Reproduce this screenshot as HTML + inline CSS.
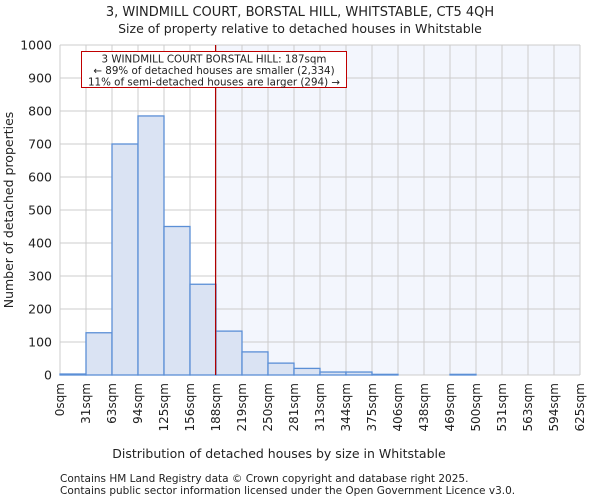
<!DOCTYPE html>
<html><head><meta charset="utf-8"><style>
body{margin:0;background:#fff;font-family:"DejaVu Sans","Liberation Sans",sans-serif}
svg text{font-family:"DejaVu Sans","Liberation Sans",sans-serif;fill:#222}
</style></head><body>
<svg id="c" width="600" height="500">
<text x="300" y="16" text-anchor="middle" font-size="13">3, WINDMILL COURT, BORSTAL HILL, WHITSTABLE, CT5 4QH</text>
<text x="300" y="33" text-anchor="middle" font-size="12.5">Size of property relative to detached houses in Whitstable</text>
<g id="g"></g>
<text x="279" y="458" text-anchor="middle" font-size="12.5">Distribution of detached houses by size in Whitstable</text>
<text transform="translate(13,210) rotate(-90)" text-anchor="middle" font-size="12.5">Number of detached properties</text>
<text x="60" y="482" font-size="10.5">Contains HM Land Registry data © Crown copyright and database right 2025.</text>
<text x="60" y="494" font-size="10.5">Contains public sector information licensed under the Open Government Licence v3.0.</text>
</svg>
<script>
const binLabels=["0sqm","31sqm","63sqm","94sqm","125sqm","156sqm","188sqm","219sqm","250sqm","281sqm","313sqm","344sqm","375sqm","406sqm","438sqm","469sqm","500sqm","531sqm","563sqm","594sqm","625sqm"];
const counts=[3,128,700,785,450,275,133,70,36,20,9,9,2,0,0,2,0,0,0,0];
const yTicks=[0,100,200,300,400,500,600,700,800,900,1000];
const markerValue=187;
const xMin=0,xMax=625;
const L=60,R=580,T=45,B=375;
const ns="http://www.w3.org/2000/svg";
const g=document.getElementById('g');
const sx=v=>L+(v-xMin)/(xMax-xMin)*(R-L);
const sy=v=>B-v/1000*(B-T);
const bw=(R-L)/counts.length;
function mk(t,a){const e=document.createElementNS(ns,t);for(const k in a)e.setAttribute(k,a[k]);g.appendChild(e);return e;}
let e=mk('rect',{x:sx(markerValue),y:T,width:R-sx(markerValue),height:B-T,fill:'#f3f6fd'});


for(let i=0;i<binLabels.length;i++){
 e=mk('line',{x1:L+i*bw,x2:L+i*bw,y1:T,y2:B,stroke:'#ccc'});
 
 
 e=mk('text',{transform:`translate(${L+i*bw+4},${B+8}) rotate(-90)`,'text-anchor':'end','font-size':'12'});
 e.textContent=binLabels[i];
 
 
}
yTicks.forEach(v=>{
 e=mk('line',{x1:L,x2:R,y1:sy(v),y2:sy(v),stroke:'#ccc'});
 
 
 e=mk('text',{x:L-8,y:sy(v)+4.5,'text-anchor':'end','font-size':'12.5'});
 e.textContent=v;
 
 
});
counts.forEach((c,i)=>{
 e=mk('rect',{x:L+i*bw,y:sy(c),width:bw,height:B-sy(c),fill:'#dae3f3',stroke:'#5b8fd6','stroke-width':1.3});
 
 
});
e=mk('line',{x1:sx(markerValue),x2:sx(markerValue),y1:T,y2:B,stroke:'#b00000','stroke-width':1.2});


e=mk('rect',{x:81.5,y:51.5,width:265,height:36,fill:'#fff',stroke:'#c00000'});


["3 WINDMILL COURT BORSTAL HILL: 187sqm","← 89% of detached houses are smaller (2,334)","11% of semi-detached houses are larger (294) →"].forEach((t,i)=>{
 e=mk('text',{x:214,y:62.5+i*11.5,'text-anchor':'middle','font-size':'10.3'});
 e.textContent=t;
 
 
});
</script>
</body></html>
